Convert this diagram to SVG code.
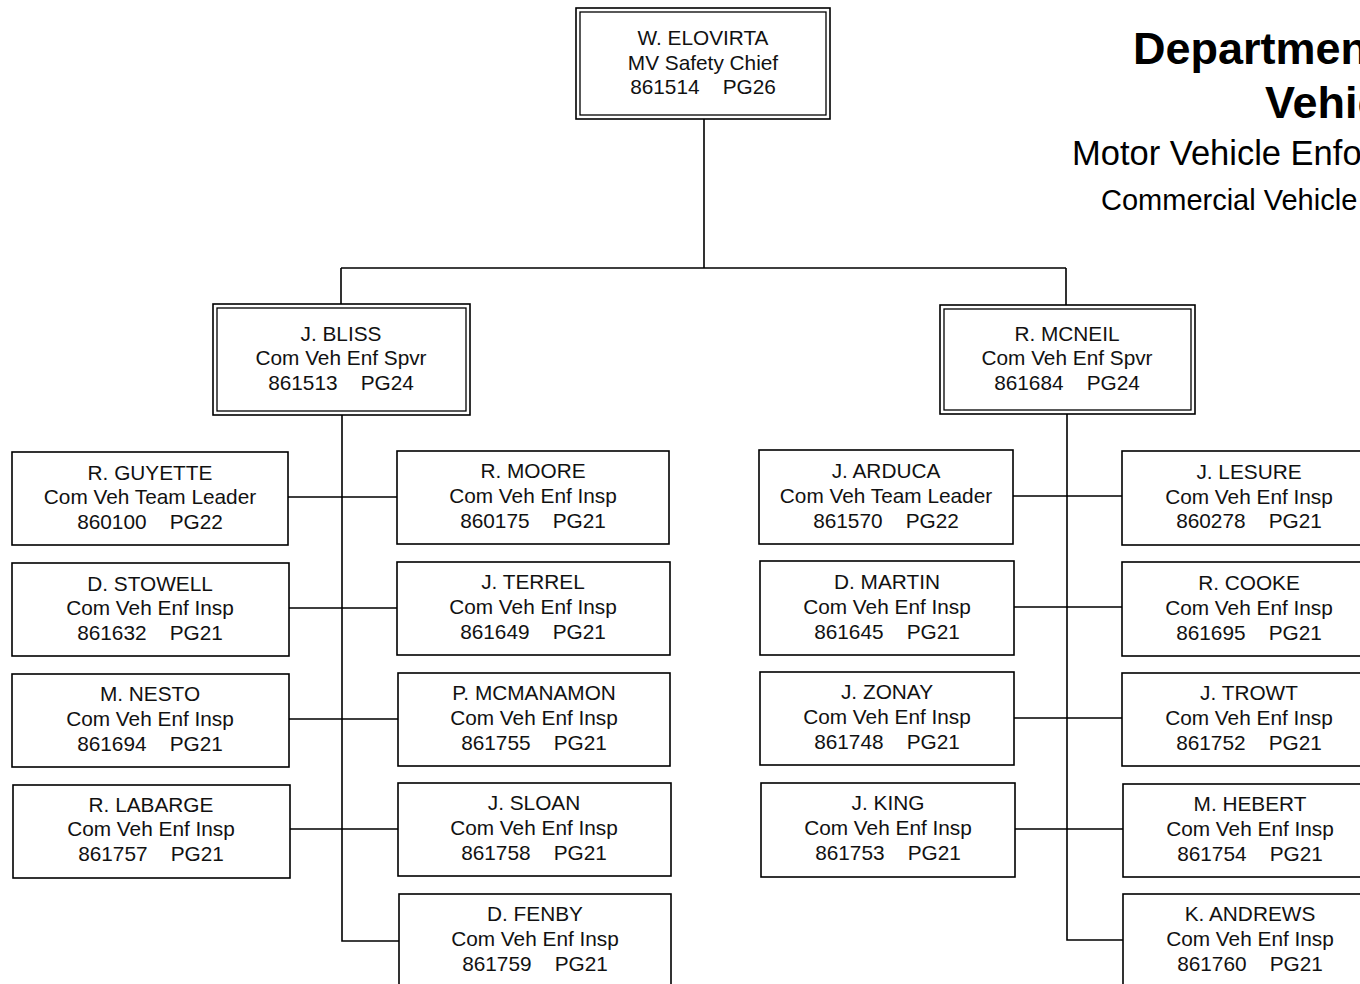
<svg xmlns="http://www.w3.org/2000/svg" width="1360" height="984" viewBox="0 0 1360 984">
<style>
.bg{fill:#fff}
.box{fill:#fff;stroke:#000;stroke-width:1.6}
.inner{fill:none;stroke:#000;stroke-width:1.3}
.t{font-family:"Liberation Sans",Arial,sans-serif;font-size:20.8px;fill:#111;text-anchor:middle;white-space:pre}
.ln{fill:none;stroke:#000;stroke-width:1.6}
.title{font-family:"Liberation Sans",Arial,sans-serif;fill:#000}
</style>
<rect class="bg" x="0" y="0" width="1360" height="984"/>
<g id="title">
<text class="title" x="1133" y="64" font-size="45" font-weight="bold">Departmen</text>
<text class="title" x="1265" y="118" font-size="45" font-weight="bold">Vehic</text>
<text class="title" x="1072" y="165" font-size="34.5">Motor Vehicle Enfo</text>
<text class="title" x="1101" y="210" font-size="29">Commercial Vehicle</text>
</g>
<g id="connectors">
<path class="ln" d="M704,119 V268 M341,268 H1066 M341,268 V304 M1066,268 V305"/>
<path class="ln" d="M342,415 V941 H399 M288,497 H397 M289,608 H397 M289,719 H398 M290,829 H398"/>
<path class="ln" d="M1067,414 V940 H1123 M1013,496 H1122 M1014,607 H1122 M1014,718 H1122 M1015,829 H1123"/>
</g>
<g id="elovirta">
<rect class="box" x="576" y="8" width="254" height="111"/>
<rect class="inner" x="580" y="12" width="246" height="103"/>
<text class="t" x="703" y="45">W. ELOVIRTA</text>
<text class="t" x="703" y="70">MV Safety Chief</text>
<text class="t" x="703" y="94">861514    PG26</text>
</g>
<g id="bliss">
<rect class="box" x="213" y="304" width="257" height="111"/>
<rect class="inner" x="217" y="308" width="249" height="103"/>
<text class="t" x="341" y="341">J. BLISS</text>
<text class="t" x="341" y="365">Com Veh Enf Spvr</text>
<text class="t" x="341" y="390">861513    PG24</text>
</g>
<g id="mcneil">
<rect class="box" x="940" y="305" width="255" height="109"/>
<rect class="inner" x="944" y="309" width="247" height="101"/>
<text class="t" x="1067" y="341">R. MCNEIL</text>
<text class="t" x="1067" y="365">Com Veh Enf Spvr</text>
<text class="t" x="1067" y="390">861684    PG24</text>
</g>
<g id="guyette">
<rect class="box" x="12" y="452" width="276" height="93"/>
<text class="t" x="150" y="480">R. GUYETTE</text>
<text class="t" x="150" y="504">Com Veh Team Leader</text>
<text class="t" x="150" y="529">860100    PG22</text>
</g>
<g id="stowell">
<rect class="box" x="12" y="563" width="277" height="93"/>
<text class="t" x="150" y="591">D. STOWELL</text>
<text class="t" x="150" y="615">Com Veh Enf Insp</text>
<text class="t" x="150" y="640">861632    PG21</text>
</g>
<g id="nesto">
<rect class="box" x="12" y="674" width="277" height="93"/>
<text class="t" x="150" y="701">M. NESTO</text>
<text class="t" x="150" y="726">Com Veh Enf Insp</text>
<text class="t" x="150" y="751">861694    PG21</text>
</g>
<g id="labarge">
<rect class="box" x="13" y="785" width="277" height="93"/>
<text class="t" x="151" y="812">R. LABARGE</text>
<text class="t" x="151" y="836">Com Veh Enf Insp</text>
<text class="t" x="151" y="861">861757    PG21</text>
</g>
<g id="moore">
<rect class="box" x="397" y="451" width="272" height="93"/>
<text class="t" x="533" y="478">R. MOORE</text>
<text class="t" x="533" y="503">Com Veh Enf Insp</text>
<text class="t" x="533" y="528">860175    PG21</text>
</g>
<g id="terrel">
<rect class="box" x="397" y="562" width="273" height="93"/>
<text class="t" x="533" y="589">J. TERREL</text>
<text class="t" x="533" y="614">Com Veh Enf Insp</text>
<text class="t" x="533" y="639">861649    PG21</text>
</g>
<g id="mcmanamon">
<rect class="box" x="398" y="673" width="272" height="93"/>
<text class="t" x="534" y="700">P. MCMANAMON</text>
<text class="t" x="534" y="725">Com Veh Enf Insp</text>
<text class="t" x="534" y="750">861755    PG21</text>
</g>
<g id="sloan">
<rect class="box" x="398" y="783" width="273" height="93"/>
<text class="t" x="534" y="810">J. SLOAN</text>
<text class="t" x="534" y="835">Com Veh Enf Insp</text>
<text class="t" x="534" y="860">861758    PG21</text>
</g>
<g id="fenby">
<rect class="box" x="399" y="894" width="272" height="95"/>
<text class="t" x="535" y="921">D. FENBY</text>
<text class="t" x="535" y="946">Com Veh Enf Insp</text>
<text class="t" x="535" y="971">861759    PG21</text>
</g>
<g id="arduca">
<rect class="box" x="759" y="450" width="254" height="94"/>
<text class="t" x="886" y="478">J. ARDUCA</text>
<text class="t" x="886" y="503">Com Veh Team Leader</text>
<text class="t" x="886" y="528">861570    PG22</text>
</g>
<g id="martin">
<rect class="box" x="760" y="561" width="254" height="94"/>
<text class="t" x="887" y="589">D. MARTIN</text>
<text class="t" x="887" y="614">Com Veh Enf Insp</text>
<text class="t" x="887" y="639">861645    PG21</text>
</g>
<g id="zonay">
<rect class="box" x="760" y="672" width="254" height="93"/>
<text class="t" x="887" y="699">J. ZONAY</text>
<text class="t" x="887" y="724">Com Veh Enf Insp</text>
<text class="t" x="887" y="749">861748    PG21</text>
</g>
<g id="king">
<rect class="box" x="761" y="783" width="254" height="94"/>
<text class="t" x="888" y="810">J. KING</text>
<text class="t" x="888" y="835">Com Veh Enf Insp</text>
<text class="t" x="888" y="860">861753    PG21</text>
</g>
<g id="lesure">
<rect class="box" x="1122" y="451" width="254" height="94"/>
<text class="t" x="1249" y="479">J. LESURE</text>
<text class="t" x="1249" y="504">Com Veh Enf Insp</text>
<text class="t" x="1249" y="528">860278    PG21</text>
</g>
<g id="cooke">
<rect class="box" x="1122" y="562" width="254" height="94"/>
<text class="t" x="1249" y="590">R. COOKE</text>
<text class="t" x="1249" y="615">Com Veh Enf Insp</text>
<text class="t" x="1249" y="640">861695    PG21</text>
</g>
<g id="trowt">
<rect class="box" x="1122" y="673" width="254" height="93"/>
<text class="t" x="1249" y="700">J. TROWT</text>
<text class="t" x="1249" y="725">Com Veh Enf Insp</text>
<text class="t" x="1249" y="750">861752    PG21</text>
</g>
<g id="hebert">
<rect class="box" x="1123" y="784" width="254" height="93"/>
<text class="t" x="1250" y="811">M. HEBERT</text>
<text class="t" x="1250" y="836">Com Veh Enf Insp</text>
<text class="t" x="1250" y="861">861754    PG21</text>
</g>
<g id="andrews">
<rect class="box" x="1123" y="894" width="254" height="95"/>
<text class="t" x="1250" y="921">K. ANDREWS</text>
<text class="t" x="1250" y="946">Com Veh Enf Insp</text>
<text class="t" x="1250" y="971">861760    PG21</text>
</g>
</svg>
